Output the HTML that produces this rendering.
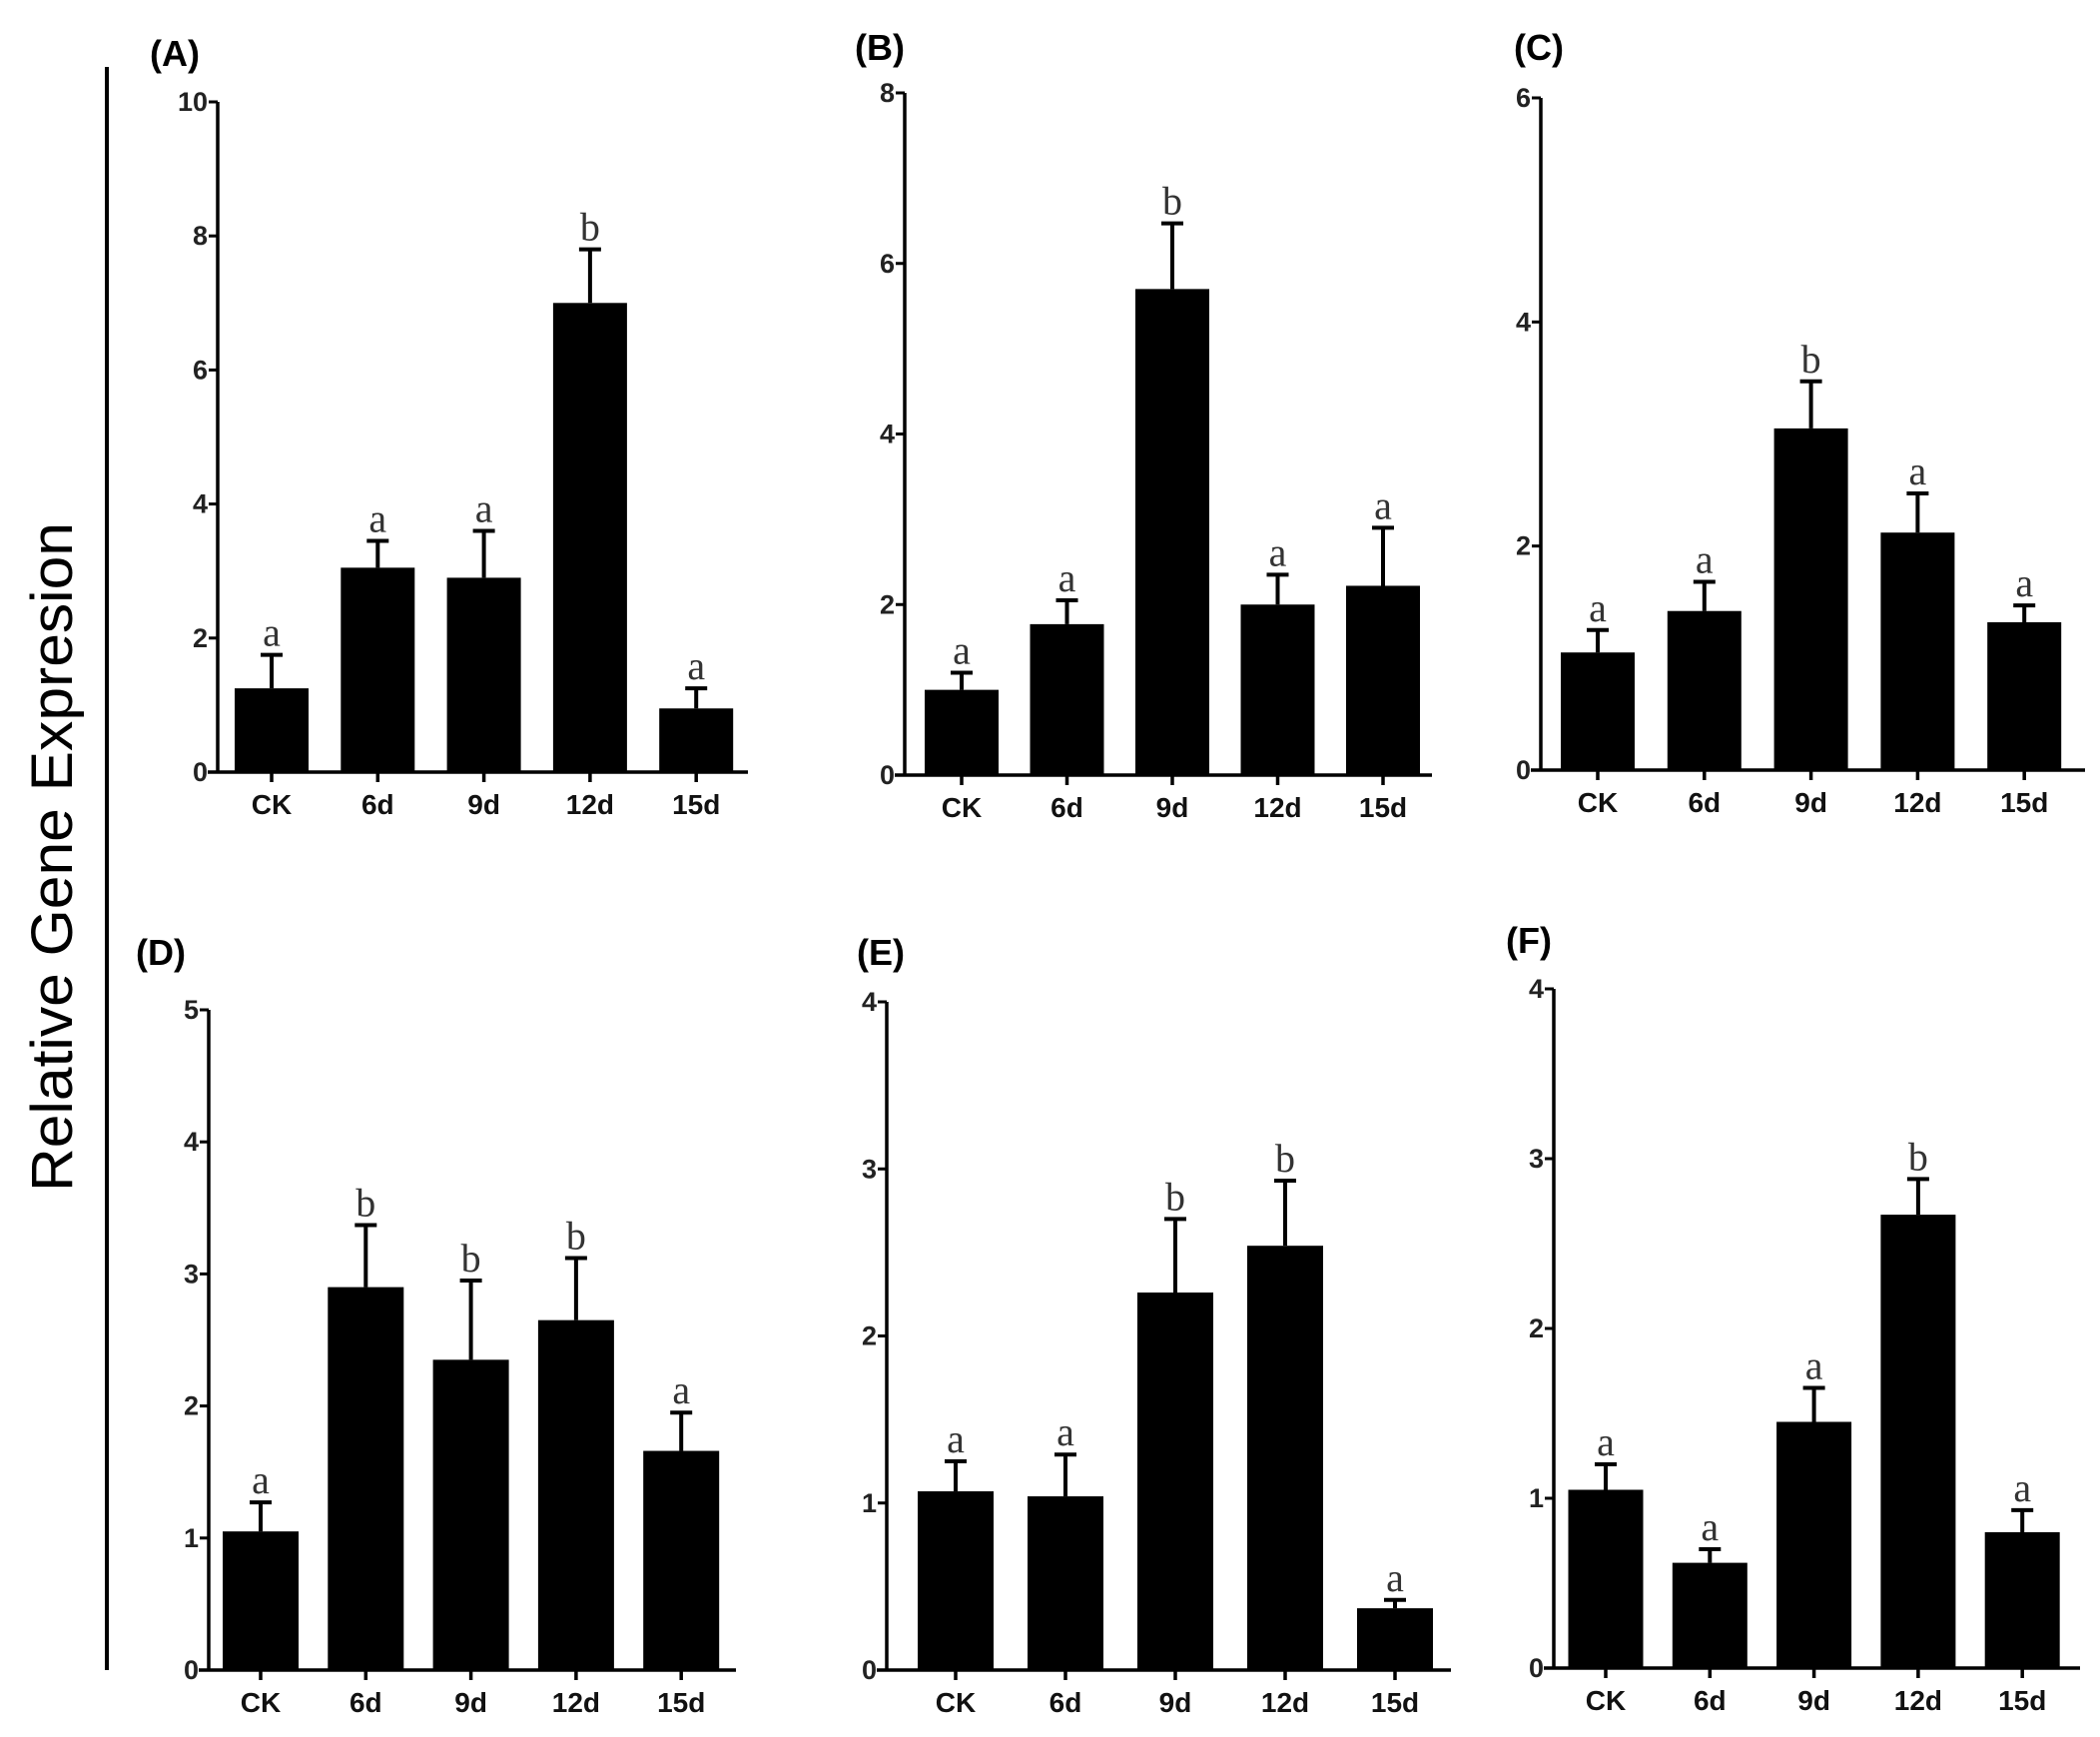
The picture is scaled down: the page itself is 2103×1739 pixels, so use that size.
<!DOCTYPE html>
<html><head><meta charset="utf-8"><style>
html,body{margin:0;padding:0;background:#fff;}
svg{display:block;}
</style></head><body>
<svg id="fig" width="2103" height="1739" viewBox="0 0 2103 1739" xmlns="http://www.w3.org/2000/svg">
<rect width="2103" height="1739" fill="#fff"/>
<line x1="107" y1="67" x2="107" y2="1672" stroke="#000" stroke-width="4"/>
<text transform="translate(72,858) rotate(-90)" text-anchor="middle" font-family="Liberation Sans, sans-serif" font-size="58" textLength="670" lengthAdjust="spacingAndGlyphs" fill="#000">Relative Gene Expresion</text>
<g id="panels"></g>
</svg>
<script>
const categories = ["CK","6d","9d","12d","15d"];
const valuesA = [1.25,3.05,2.9,7.0,0.95];
const errA = [1.75,3.45,3.6,7.8,1.25];
const sigA = ["a","a","a","b","a"];
const ticksA = [0,2,4,6,8,10];
const valuesB = [1.0,1.77,5.7,2.0,2.22];
const errB = [1.2,2.05,6.47,2.35,2.9];
const sigB = ["a","a","b","a","a"];
const ticksB = [0,2,4,6,8];
const valuesC = [1.05,1.42,3.05,2.12,1.32];
const errC = [1.25,1.68,3.47,2.47,1.47];
const sigC = ["a","a","b","a","a"];
const ticksC = [0,2,4,6];
const valuesD = [1.05,2.9,2.35,2.65,1.66];
const errD = [1.27,3.37,2.95,3.12,1.95];
const sigD = ["a","b","b","b","a"];
const ticksD = [0,1,2,3,4,5];
const valuesE = [1.07,1.04,2.26,2.54,0.37];
const errE = [1.25,1.29,2.7,2.93,0.42];
const sigE = ["a","a","b","b","a"];
const ticksE = [0,1,2,3,4];
const valuesF = [1.05,0.62,1.45,2.67,0.8];
const errF = [1.2,0.7,1.65,2.88,0.93];
const sigF = ["a","a","a","b","a"];
const ticksF = [0,1,2,3,4];

const NS = "http://www.w3.org/2000/svg";
const root = document.getElementById("panels");
function mk(tag, attrs, parent){
  const e = document.createElementNS(NS, tag);
  for (const k in attrs) e.setAttribute(k, attrs[k]);
  parent.appendChild(e);
  return e;
}
const layout = [
  {id:"a", label:"(A)", lx:150, ly:66, ax:218, top:102, bot:773, xEnd:749, c0:272, step:106.3, bw:74, vals:valuesA, errs:errA, sig:sigA, ticks:ticksA},
  {id:"b", label:"(B)", lx:856, ly:60, ax:906, top:93, bot:776, xEnd:1434, c0:963, step:105.5, bw:74, vals:valuesB, errs:errB, sig:sigB, ticks:ticksB},
  {id:"c", label:"(C)", lx:1516, ly:60, ax:1543, top:98, bot:771, xEnd:2088, c0:1600, step:106.8, bw:74, vals:valuesC, errs:errC, sig:sigC, ticks:ticksC},
  {id:"d", label:"(D)", lx:136, ly:966, ax:209, top:1011, bot:1672, xEnd:737, c0:261, step:105.3, bw:76, vals:valuesD, errs:errD, sig:sigD, ticks:ticksD},
  {id:"e", label:"(E)", lx:858, ly:966, ax:888, top:1003, bot:1672, xEnd:1453, c0:957, step:110, bw:76, vals:valuesE, errs:errE, sig:sigE, ticks:ticksE},
  {id:"f", label:"(F)", lx:1508, ly:954, ax:1556, top:990, bot:1670, xEnd:2083, c0:1608, step:104.3, bw:75, vals:valuesF, errs:errF, sig:sigF, ticks:ticksF}
];
layout.forEach(p => {
  const g = mk("g", {}, root);
  
  
  const maxT = p.ticks[p.ticks.length-1];
  const y = v => p.bot - (v / maxT) * (p.bot - p.top);
  const x = i => p.c0 + i * p.step;
  const lab = mk("text", {x:p.lx, y:p.ly, "font-family":"Liberation Sans, sans-serif", "font-weight":"bold", "font-size":"36"}, g);
  
  
  lab.textContent = p.label;
  p.vals.forEach((v,i) => {
    const r = mk("rect", {x:x(i)-p.bw/2, y:y(v), width:p.bw, height:p.bot - y(v), fill:"#000"}, g);
    
    
    const el = mk("path", {d:`M${x(i)} ${y(v)} V${y(p.errs[i])} M${x(i)-11} ${y(p.errs[i])} H${x(i)+11}`, stroke:"#000", "stroke-width":"4", fill:"none"}, g);
    
    
    const s = mk("text", {x:x(i), y:y(p.errs[i]) - 9, "text-anchor":"middle", "font-family":"Liberation Serif, serif", "font-size":"40", fill:"#333"}, g);
    
    
    s.textContent = p.sig[i];
    const tk = mk("line", {x1:x(i), y1:p.bot, x2:x(i), y2:p.bot+10, stroke:"#000", "stroke-width":"3.5"}, g);
    
    
    const t = mk("text", {x:x(i), y:p.bot+42, "text-anchor":"middle", "font-family":"Liberation Sans, sans-serif", "font-weight":"bold", "font-size":"28", fill:"#111"}, g);
    
    
    t.textContent = categories[i];
  });
  const ya = mk("line", {x1:p.ax, y1:p.top, x2:p.ax, y2:p.bot+1.5, stroke:"#000", "stroke-width":"3.5"}, g);
  
  
  const xa = mk("line", {x1:p.ax-10, y1:p.bot, x2:p.xEnd, y2:p.bot, stroke:"#000", "stroke-width":"3.5"}, g);
  
  
  p.ticks.forEach(tv => {
    const ty = y(tv);
    const tl = mk("line", {x1:p.ax-9, y1:ty, x2:p.ax, y2:ty, stroke:"#000", "stroke-width":"3"}, g);
    
    
    const tt = mk("text", {x:p.ax-10, y:ty+9, "text-anchor":"end", "font-family":"Liberation Sans, sans-serif", "font-weight":"bold", "font-size":"27", fill:"#222"}, g);
    
    
    tt.textContent = tv;
  });
});
</script>
</body></html>
